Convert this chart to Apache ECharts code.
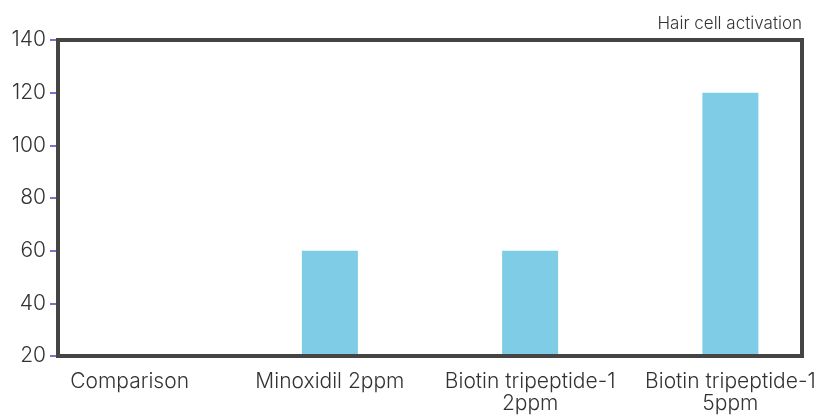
<!DOCTYPE html>
<html><head><meta charset="utf-8">
<script src="https://cdn.jsdelivr.net/npm/echarts@6/dist/echarts.min.js"></script>
<style>html,body{margin:0;padding:0;background:#fff}#c{width:820px;height:416px}</style>
</head><body><div id="c"></div>
<script>
const categories = ['Comparison', 'Minoxidil 2ppm', 'Biotin tripeptide-1\n2ppm', 'Biotin tripeptide-1\n5ppm'];
const values = [20, 60, 60, 120];
const yTicks = [20, 40, 60, 80, 100, 120, 140];
const title = 'Hair cell activation';

const chart = echarts.init(document.getElementById('c'));
const font = 'Inter, Roboto, sans-serif';
chart.setOption({
  animation: false,
  title: {text: title, right: 13, top: 10, textStyle: {fontFamily: font, fontSize: 17, fontWeight: 300, color: '#333'}},
  grid: [
    {left: 58, top: 40, width: 744, height: 316, show: true, borderWidth: 4, borderColor: '#444', backgroundColor: 'transparent', z: 5, outerBoundsMode: 'none', containLabel: false},
    {left: 29.5, top: 40, width: 801, height: 316, outerBoundsMode: 'none', containLabel: false}
  ],
  xAxis: [
    {gridIndex: 0, type: 'value', show: false, min: 0, max: 1},
    {gridIndex: 1, type: 'category', data: categories,
     axisLine: {show: false}, axisTick: {show: false},
     axisLabel: {interval: 0, hideOverlap: false, fontFamily: font, fontSize: 21, fontWeight: 300, color: '#333', margin: 15, lineHeight: 22}}
  ],
  yAxis: [
    {gridIndex: 0, type: 'value', min: yTicks[0], max: yTicks[yTicks.length-1], interval: 20,
     axisLine: {show: false}, splitLine: {show: false},
     axisTick: {show: true, length: 8, lineStyle: {color: '#8070c8', width: 2}},
     axisLabel: {fontFamily: font, fontSize: 21, fontWeight: 300, color: '#333', margin: 12}},
    {gridIndex: 1, type: 'value', min: yTicks[0], max: yTicks[yTicks.length-1], interval: 20, show: false}
  ],
  series: [{
    type: 'bar', xAxisIndex: 1, yAxisIndex: 1, data: values, barWidth: 56,
    itemStyle: {color: '#7ecce6'}
  }]
});
</script></body></html>
